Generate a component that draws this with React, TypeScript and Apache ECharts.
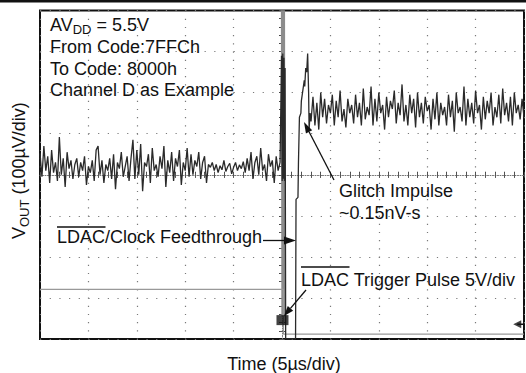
import React, { useEffect, useRef } from "react";
import * as echarts from "echarts";

// Axis ranges (time in µs, 5 µs/div; VOUT in µV, 100 µV/div)
const TIME_MIN = -25;
const TIME_MAX = 25;
const TIME_STEP = 5;
const V_MIN = -400;
const V_MAX = 400;
const V_STEP = 100;

// Scope sampling
const SAMPLE_US = 0.2;

// VOUT before the LDAC edge (µV), one sample every 0.2 µs from -25 µs
const PRE_START_US = -25;
const PRE_VALUES = [
  52, -5, 70, 10, 45, -20, 60, 5, 30, -15, 92, 0, 40, -30, 55, 15, 35, -10, 25, 40,
  -5, 30, 10, 45, -25, 20, 5, 35, -15, 60, 70, 0, 35, -20, 25, 10, 40, -10, 50, -35,
  30, 15, 55, -5, 20, 45, -15, 40, 85, -10, 60, 0, 75, -40, 30, 20, 50, -20, 65, 10,
  25, -5, 45, 15, 70, -30, 35, 5, 55, -15, 40, 20, 60, -25, 30, 10, 65, -5, 50, 0,
  35, 20, 55, -10, 30, 45, -20, 25,
  18, 30, 10, 25, 5, 22, 12, 35, 8, 20, 28, 2, 18, 30, 10, 24, 15, 32,
  5, 40, 10, 55, -10, 30, 45, 0, 65, 10, 25, -15, 50, 20, 35, -20, 45, 10, 30,
];

// Clock feedthrough at the LDAC edge: [µs, µV]
const TRIGGER_BAND = [
  [-0.05, 290], [0.02, -15], [0.08, 295], [0.14, -10], [0.2, 285], [0.26, -15],
  [0.32, 260], [0.38, -400],
];

// Glitch after the code change: [µs, µV]
const GLITCH = [
  [1.4, -400], [1.45, -60], [1.65, -55], [1.7, 30], [1.8, 140], [1.95, 150],
  [2.0, 180], [2.15, 205], [2.3, 230], [2.35, 215], [2.45, 260], [2.55, 250],
  [2.65, 295], [2.75, 200], [2.8, 110], [2.9, 150],
];

// VOUT after settling (µV), one sample every 0.2 µs from 3 µs
const POST_START_US = 3.0;
const POST_VALUES = [
  130, 190, 120, 175, 110, 200, 140, 185, 125, 170, 150, 195, 120, 180, 140, 205, 130, 160, 115, 185,
  150, 170, 125, 195, 140, 175, 120, 210, 135, 165, 145, 215, 120, 185, 130, 200, 150, 170, 110, 190,
  140, 180, 160, 205, 125, 175, 145, 220, 130, 170, 120, 195, 150, 185, 115, 200, 140, 175, 125, 190,
  155, 170, 110, 185, 135, 200, 120, 175, 145, 165, 120, 195, 140, 180, 105, 200, 150, 165, 130, 215,
  120, 185, 140, 175, 125, 205, 150, 170, 110, 190, 135, 180, 150, 200, 120, 165, 140, 195, 125, 210,
  145, 175, 130, 190, 120, 200, 150, 170, 135, 185, 140,
];

// Grey persistence of the feedthrough edge: [µs, µV]
const FEEDTHROUGH_GREY = [
  [-0.05, 400], [0.0, -345], [0.05, 400], [0.1, -345], [0.15, 400], [0.2, -345],
  [0.25, 400], [0.3, -345],
];

// LDAC trigger pulse (5 V/div) drawn on the same screen: [µs, screen µV]
const LDAC_PULSE = [
  [-25, -279], [0.15, -279], [0.15, -388], [25, -388],
];

// Trigger point marker and level marker
const TRIGGER_MARK = [[0.05, -354]];
const LEVEL_MARK = [[24.3, -364]];
const LEVEL_MARK_TAIL = [[24.3, -364], [25, -364]];

const FONT = '"Liberation Sans", Arial, Helvetica, sans-serif';
const INK = "#111";

function arrow(x1: number, y1: number, x2: number, y2: number, head: number, half: number, w = 1.3) {
  const dx = x2 - x1;
  const dy = y2 - y1;
  const len = Math.hypot(dx, dy);
  const ux = dx / len;
  const uy = dy / len;
  const bx = x2 - ux * head;
  const by = y2 - uy * head;
  const px = -uy;
  const py = ux;
  return [
    { type: "line", z: 100, shape: { x1, y1, x2: bx, y2: by }, style: { stroke: INK, lineWidth: w } },
    {
      type: "polygon",
      z: 100,
      shape: { points: [[x2, y2], [bx + px * half, by + py * half], [bx - px * half, by - py * half]] },
      style: { fill: INK },
    },
  ];
}

function label(x: number, y: number, text: string, extra: any = {}) {
  return {
    type: "text",
    z: 100,
    x,
    y,
    style: {
      text,
      fill: INK,
      fontSize: 18,
      fontFamily: FONT,
      textAlign: "left",
      textVerticalAlign: "middle",
      ...extra,
    },
  };
}

export default function App() {
  const ref = useRef<HTMLDivElement>(null);

  useEffect(() => {
    if (!ref.current) return;
    const chart = echarts.init(ref.current, undefined, { renderer: "svg" });

    const pre = PRE_VALUES.map((v, i) => [PRE_START_US + i * SAMPLE_US, v]);
    const post = POST_VALUES.map((v, i) => [POST_START_US + i * SAMPLE_US, v]);
    const trace = [...pre, ...TRIGGER_BAND, ...GLITCH, ...post];

    const gridStyle = { color: "#7a7a7a", width: 1.2 };
    const tickStyle = { color: "#333", width: 1 };

    const xBase = {
      type: "value",
      min: TIME_MIN,
      max: TIME_MAX,
      interval: TIME_STEP,
      axisLabel: { show: false },
      splitLine: { show: false },
    };
    const yBase = {
      type: "value",
      min: V_MIN,
      max: V_MAX,
      interval: V_STEP,
      axisLabel: { show: false },
      splitLine: { show: false },
    };

    const option: any = {
      animation: false,
      backgroundColor: "#fff",
      grid: {
        left: 40,
        right: 2,
        top: 10.5,
        bottom: 34,
        show: true,
        borderColor: INK,
        borderWidth: 2,
        backgroundColor: "transparent",
      },
      xAxis: [
        {
          ...xBase,
          position: "bottom",
          axisLine: { show: false },
          axisTick: { show: true, inside: true, length: 3, lineStyle: tickStyle },
          minorTick: { show: true, splitNumber: 5, length: 3, lineStyle: tickStyle },
          splitLine: { show: true, lineStyle: { ...gridStyle, type: [1.2, 7.0] } },
        },
        {
          ...xBase,
          position: "top",
          axisLine: { show: false },
          axisTick: { show: true, inside: true, length: 3, lineStyle: tickStyle },
          minorTick: { show: true, splitNumber: 5, length: 3, lineStyle: tickStyle },
        },
        {
          ...xBase,
          position: "bottom",
          offset: -164.25,
          axisLine: { show: true, lineStyle: { color: "#777", width: 1, type: [1, 1.5] } },
          axisTick: { show: true, inside: false, length: 2.5, lineStyle: { color: "#555" } },
          minorTick: { show: true, splitNumber: 5, length: 2.5, lineStyle: { color: "#555" } },
        },
        {
          ...xBase,
          position: "top",
          offset: -164.25,
          axisLine: { show: false },
          axisTick: { show: true, inside: false, length: 2.5, lineStyle: { color: "#555" } },
          minorTick: { show: true, splitNumber: 5, length: 2.5, lineStyle: { color: "#555" } },
        },
      ],
      yAxis: [
        {
          ...yBase,
          position: "left",
          axisLine: { show: false },
          axisTick: { show: true, inside: true, length: 3, lineStyle: tickStyle },
          minorTick: { show: true, splitNumber: 5, length: 3, lineStyle: tickStyle },
          splitLine: { show: true, lineStyle: { ...gridStyle, type: [1.2, 8.48] } },
        },
        {
          ...yBase,
          position: "right",
          axisLine: { show: false },
          axisTick: { show: true, inside: true, length: 3, lineStyle: tickStyle },
          minorTick: { show: true, splitNumber: 5, length: 3, lineStyle: tickStyle },
        },
        {
          ...yBase,
          position: "left",
          offset: -242,
          axisLine: { show: true, lineStyle: { color: "#777", width: 1, type: [1, 1.5] } },
          axisTick: { show: true, inside: false, length: 2.5, lineStyle: { color: "#555" } },
          minorTick: { show: true, splitNumber: 5, length: 2.5, lineStyle: { color: "#555" } },
        },
        {
          ...yBase,
          position: "right",
          offset: -242,
          axisLine: { show: false },
          axisTick: { show: true, inside: false, length: 2.5, lineStyle: { color: "#555" } },
          minorTick: { show: true, splitNumber: 5, length: 2.5, lineStyle: { color: "#555" } },
        },
      ],
      series: [
        {
          type: "line",
          name: "feedthrough",
          data: FEEDTHROUGH_GREY,
          showSymbol: false,
          symbol: "none",
          lineStyle: { color: "#8c8c8c", width: 1.3 },
          z: 3,
        },
        {
          type: "line",
          name: "LDAC",
          data: LDAC_PULSE,
          showSymbol: false,
          symbol: "none",
          lineStyle: { color: "#999", width: 1.3 },
          z: 3,
        },
        {
          type: "line",
          name: "VOUT",
          data: trace,
          showSymbol: false,
          symbol: "none",
          lineStyle: { color: "#2a2a2a", width: 1.3 },
          z: 4,
        },
        {
          type: "scatter",
          name: "trigger",
          data: TRIGGER_MARK,
          symbol: "rect",
          symbolSize: [12, 10],
          itemStyle: { color: INK },
          z: 5,
        },
        {
          type: "line",
          name: "levelTail",
          data: LEVEL_MARK_TAIL,
          showSymbol: false,
          symbol: "none",
          lineStyle: { color: INK, width: 1.5 },
          z: 5,
        },
        {
          type: "scatter",
          name: "level",
          data: LEVEL_MARK,
          symbol: "triangle",
          symbolRotate: 90,
          symbolSize: [8, 8],
          itemStyle: { color: INK },
          z: 5,
        },
      ],
      graphic: [
        { type: "rect", z: 100, shape: { x: 0, y: 0, width: 526, height: 2.5 }, style: { fill: INK } },
        label(50, 24.5, "{m|AV}{s|DD}{m| = 5.5V}", {
          rich: {
            m: { fontSize: 18, fontFamily: FONT, lineHeight: 22, fill: INK },
            s: { fontSize: 13, fontFamily: FONT, lineHeight: 12, verticalAlign: "bottom", fill: INK },
          },
        }),
        label(50, 47, "From Code:7FFCh"),
        label(50, 69, "To Code: 8000h"),
        label(50, 90, "Channel D as Example"),
        label(339, 191, "Glitch Impulse"),
        label(339, 213, "~0.15nV-s"),
        label(57, 237, "LDAC/Clock Feedthrough"),
        { type: "line", z: 100, shape: { x1: 57, y1: 227, x2: 105.5, y2: 227 }, style: { stroke: INK, lineWidth: 1.6 } },
        label(301, 280, "LDAC Trigger Pulse 5V/div"),
        { type: "line", z: 100, shape: { x1: 301, y1: 267, x2: 349.5, y2: 267 }, style: { stroke: INK, lineWidth: 1.6 } },
        ...arrow(263, 240.5, 296, 240.5, 12, 4),
        ...arrow(334, 180, 304, 122, 11, 3.5),
        ...arrow(306, 290, 284, 316, 10, 3.5),
        label(284, 363.5, "Time (5µs/div)", { textAlign: "center" }),
        {
          type: "text",
          z: 100,
          x: 19,
          y: 239,
          rotation: Math.PI / 2,
          style: {
            text: "{v|V}{s|OUT}{v| (100µV/div)}",
            fill: INK,
            fontSize: 18,
            fontFamily: FONT,
            textAlign: "left",
            textVerticalAlign: "middle",
            rich: {
              v: { fontSize: 18, fontFamily: FONT, lineHeight: 24, fill: INK },
              s: { fontSize: 13, fontFamily: FONT, lineHeight: 14, verticalAlign: "bottom", fill: INK },
            },
          },
        },
      ],
    };

    chart.setOption(option);
    return () => chart.dispose();
  }, []);

  return (
    <div
      ref={ref}
      style={{ position: "fixed", left: 0, top: 0, width: 526, height: 373, background: "#fff" }}
    />
  );
}
